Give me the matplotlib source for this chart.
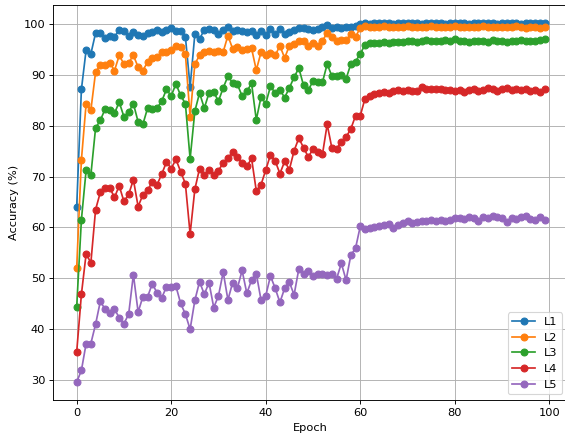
import numpy as np
import matplotlib
matplotlib.use("Agg")
import matplotlib.pyplot as plt

epochs = np.arange(100)

l1 = [64.0, 87.2, 95.0, 94.2, 98.3, 98.4, 97.4, 97.8, 97.6, 98.9,
      98.8, 97.8, 98.6, 98.0, 97.7, 98.4, 98.6, 99.0, 98.6, 99.0,
      99.4, 98.8, 98.8, 97.6, 87.7, 98.1, 97.1, 99.0, 99.1, 99.0,
      98.1, 98.9, 99.5, 98.8, 98.9, 98.8, 98.6, 98.7, 98.0, 98.7,
      98.0, 99.1, 98.1, 99.1, 98.1, 98.6, 98.9, 99.3, 99.3, 99.1,
      98.9, 99.1, 99.5, 99.8, 99.4, 99.6, 99.4, 99.6, 99.5, 99.7,
      100.1, 100.2, 100.1, 100.2, 100.2, 100.3, 100.2, 100.1, 100.2, 100.2,
      100.3, 100.2, 100.2, 100.1, 100.2, 100.3, 100.2, 100.2, 100.1, 100.2,
      100.2, 100.3, 100.2, 100.1, 100.2, 100.2, 100.3, 100.2, 100.2, 100.1,
      100.2, 100.2, 100.3, 100.2, 100.1, 100.2, 100.3, 100.2, 100.2, 100.3]

l2 = [52.0, 73.3, 84.4, 83.1, 90.6, 92.0, 92.0, 92.5, 90.9, 93.9,
      92.2, 92.5, 93.9, 91.6, 90.9, 92.6, 93.3, 93.5, 94.5, 94.6,
      95.0, 95.8, 95.5, 94.2, 81.8, 92.2, 93.9, 94.6, 94.8, 94.5,
      94.8, 94.6, 97.8, 95.2, 95.5, 95.0, 95.2, 95.3, 91.0, 94.5,
      93.9, 94.4, 93.9, 95.8, 93.4, 95.8, 96.1, 96.7, 96.8, 95.8,
      96.4, 95.8, 96.8, 98.3, 97.5, 96.8, 97.0, 96.9, 98.1, 97.5,
      99.4, 99.7, 99.6, 99.5, 99.6, 99.7, 99.5, 99.6, 99.6, 99.5,
      99.7, 99.6, 99.5, 99.6, 99.6, 99.7, 99.5, 99.6, 99.5, 99.6,
      99.7, 99.6, 99.5, 99.6, 99.6, 99.5, 99.7, 99.6, 99.5, 99.6,
      99.6, 99.5, 99.6, 99.7, 99.5, 99.4, 99.6, 99.5, 99.4, 99.6]

l3 = [44.3, 61.5, 71.3, 70.3, 79.6, 81.1, 83.3, 83.2, 82.5, 84.7,
      81.8, 82.7, 84.4, 80.8, 80.3, 83.5, 83.4, 83.5, 84.9, 87.2,
      85.9, 88.3, 86.0, 84.4, 73.5, 82.9, 86.5, 83.5, 86.5, 86.6,
      84.9, 87.5, 89.8, 88.5, 88.2, 85.9, 86.8, 88.4, 81.2, 85.7,
      84.4, 87.8, 86.5, 87.1, 85.6, 87.5, 89.6, 91.4, 88.0, 87.1,
      88.8, 88.6, 88.6, 92.2, 89.8, 89.8, 90.1, 89.3, 92.2, 92.7,
      94.2, 96.0, 96.3, 96.4, 96.4, 96.5, 96.3, 96.5, 96.6, 96.5,
      96.7, 96.8, 96.6, 96.8, 96.9, 96.7, 96.8, 96.7, 96.9, 96.7,
      97.1, 96.8, 96.7, 96.6, 96.8, 96.7, 96.8, 96.6, 96.9, 96.7,
      96.8, 96.5, 96.8, 96.7, 96.9, 96.8, 96.7, 96.8, 96.9, 97.1]

l4 = [35.4, 46.8, 54.8, 53.0, 63.5, 66.9, 67.8, 67.8, 65.9, 68.2,
      65.1, 66.5, 69.4, 64.1, 66.4, 67.3, 69.0, 68.4, 70.5, 72.9,
      71.6, 73.4, 71.0, 68.6, 58.7, 67.5, 71.6, 70.3, 71.3, 70.3,
      71.2, 72.7, 73.6, 74.9, 73.9, 72.7, 72.0, 73.6, 67.2, 68.4,
      71.3, 74.3, 73.1, 70.6, 73.0, 71.4, 75.1, 77.6, 75.7, 73.9,
      75.4, 74.9, 74.4, 80.3, 75.6, 75.5, 76.9, 77.8, 79.4, 82.0,
      82.0, 85.4, 85.9, 86.3, 86.4, 86.6, 86.5, 86.9, 87.0, 86.8,
      87.0, 86.8, 86.9, 87.6, 87.2, 87.3, 87.2, 87.3, 87.0, 87.1,
      86.9, 87.1, 86.7, 87.0, 87.2, 86.8, 87.0, 87.5, 87.2, 86.9,
      87.2, 87.5, 87.1, 87.3, 87.0, 87.2, 86.9, 87.0, 86.6, 87.2]

l5 = [29.5, 31.8, 37.1, 37.1, 40.9, 45.4, 43.9, 43.2, 43.9, 42.2,
      41.0, 42.9, 50.7, 43.3, 46.3, 46.3, 48.9, 47.1, 46.1, 48.3,
      48.3, 48.4, 45.0, 42.9, 39.9, 45.6, 49.3, 46.8, 49.1, 44.2,
      46.5, 51.2, 45.7, 49.1, 48.0, 51.5, 47.0, 49.6, 50.9, 45.7,
      46.5, 50.4, 48.0, 45.2, 48.0, 49.2, 46.7, 51.8, 50.9, 51.4,
      50.4, 50.8, 50.8, 50.7, 50.8, 49.9, 52.9, 49.6, 54.5, 55.9,
      60.2, 59.6, 59.9, 60.0, 60.3, 60.4, 60.6, 59.8, 60.4, 60.8,
      61.3, 60.8, 61.0, 61.3, 61.2, 61.4, 61.3, 61.5, 61.2, 61.5,
      61.8, 61.9, 61.6, 62.0, 61.8, 61.3, 62.1, 61.8, 62.2, 62.0,
      61.9, 61.1, 61.8, 61.7, 62.1, 62.3, 61.7, 61.5, 62.0, 61.5]

series = [("L1", l1), ("L2", l2), ("L3", l3), ("L4", l4), ("L5", l5)]

dpi = 82
fig = plt.figure(figsize=(565 / dpi, 439 / dpi), dpi=dpi)
ax = fig.add_axes([0.0943, 0.0888, 0.911, 0.8998])

for name, vals in series:
    ax.plot(epochs, vals, marker="o", label=name)

ax.set_xlabel("Epoch")
ax.set_ylabel("Accuracy (%)")
ax.grid(True)
ax.legend(loc="lower right")

fig.savefig("out.png", dpi=dpi)
